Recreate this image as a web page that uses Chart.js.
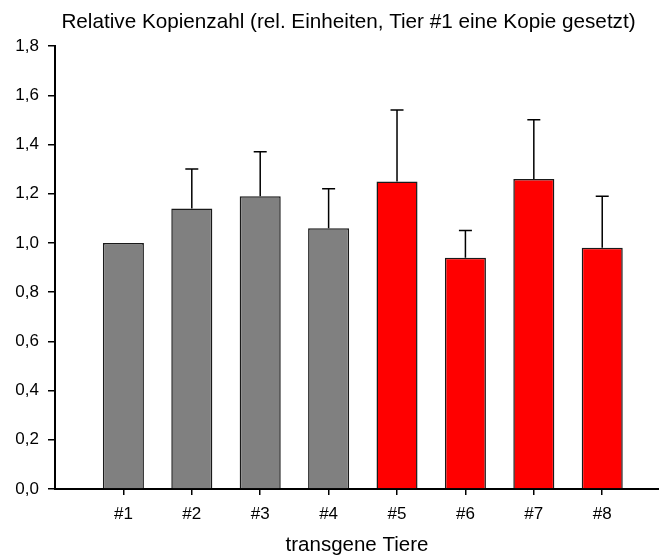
<!DOCTYPE html>
<html>
<head>
<meta charset="utf-8">
<script src="https://cdn.jsdelivr.net/npm/chart.js@4"></script>
<style>
  html, body { margin: 0; padding: 0; background: #fff; }
  canvas { display: block; }
</style>
</head>
<body>
<canvas id="copyChart" width="659" height="557"></canvas>
<script>
// values
const animals = ['#1', '#2', '#3', '#4', '#5', '#6', '#7', '#8'];
const animalPos = [1, 2, 3, 4, 5, 6, 7, 8];
const copyNumber = [1.00, 1.14, 1.19, 1.06, 1.25, 0.94, 1.26, 0.98];
const errorUp = [0, 0.16, 0.18, 0.16, 0.29, 0.11, 0.24, 0.21];
const yTicks = [0, 0.2, 0.4, 0.6, 0.8, 1.0, 1.2, 1.4, 1.6, 1.8];

const FONT = "'Liberation Sans', Arial, sans-serif";
Chart.defaults.color = '#000';
Chart.defaults.font.family = FONT;

// draws the upward error bar on every bar, using the chart's own scales
const errorBars = {
    id: 'errorBars',
    afterDatasetsDraw(chart) {
        const meta = chart.getDatasetMeta(0);
        const y = chart.scales.y;
        const c = chart.ctx;
        c.save();
        c.strokeStyle = '#000';
        c.lineWidth = 1.5;
        meta.data.forEach((bar, i) => {
            if (!errorUp[i]) return;
            const top = y.getPixelForValue(copyNumber[i] + errorUp[i]);
            c.beginPath();
            c.moveTo(bar.x, bar.y);
            c.lineTo(bar.x, top);
            c.moveTo(bar.x - 6.5, top);
            c.lineTo(bar.x + 6.5, top);
            c.stroke();
        });
        c.restore();
    }
};

// title in the original is centred a bit right of the canvas middle
const titleShift = {
    id: 'titleShift',
    afterLayout(chart) {
        if (chart.titleBlock) chart.titleBlock.left = 38;
    }
};

new Chart(document.getElementById('copyChart'), {
    type: 'bar',
    data: {
        datasets: [{
            data: animalPos.map((p, i) => ({ x: p, y: copyNumber[i] })),
            backgroundColor: ctx => ctx.dataIndex < 4 ? '#808080' : '#ff0000',
            borderColor: '#1a1a1a',
            borderWidth: 1.5,
            barPercentage: 0.6,
            categoryPercentage: 1
        }]
    },
    options: {
        responsive: false,
        animation: false,
        layout: { padding: 0 },
        plugins: {
            legend: { display: false },
            tooltip: { enabled: false },
            title: {
                display: true,
                text: 'Relative Kopienzahl (rel. Einheiten, Tier #1 eine Kopie gesetzt)',
                font: { size: 20.7, weight: 'normal', family: FONT, lineHeight: 1.2 },
                padding: { top: 10, bottom: 11.2 }
            }
        },
        scales: {
            x: {
                type: 'linear',
                min: 0,
                max: 8.83,
                offset: false,
                afterFit: s => { s.height = 68; },
                ticks: {
                    stepSize: 1,
                    includeBounds: false,
                    autoSkip: false,
                    maxRotation: 0,
                    padding: 9,
                    font: { size: 17 },
                    callback: v => (v >= 1 && v <= 8 && Number.isInteger(v)) ? animals[v - 1] : ''
                },
                grid: {
                    offset: false,
                    drawOnChartArea: false,
                    tickLength: 6,
                    lineWidth: 1.5,
                    color: ctx => (ctx.tick && ctx.tick.value >= 1) ? '#000' : 'rgba(0,0,0,0)'
                },
                border: { color: '#000', width: 2 },
                title: {
                    display: true,
                    text: 'transgene Tiere',
                    font: { size: 20.5, lineHeight: 1.1 },
                    padding: { top: 0, bottom: 0 }
                }
            },
            y: {
                min: 0,
                max: 1.8,
                afterFit: s => { s.width = 55; },
                afterBuildTicks: s => { s.ticks = yTicks.map(v => ({ value: v })); },
                ticks: {
                    padding: 9,
                    font: { size: 17 },
                    callback: v => v.toFixed(1).replace('.', ',')
                },
                grid: {
                    drawOnChartArea: false,
                    tickLength: 7,
                    lineWidth: 1.5,
                    color: '#000'
                },
                border: { color: '#000', width: 2 }
            }
        }
    },
    plugins: [errorBars, titleShift]
});
</script>
</body>
</html>
